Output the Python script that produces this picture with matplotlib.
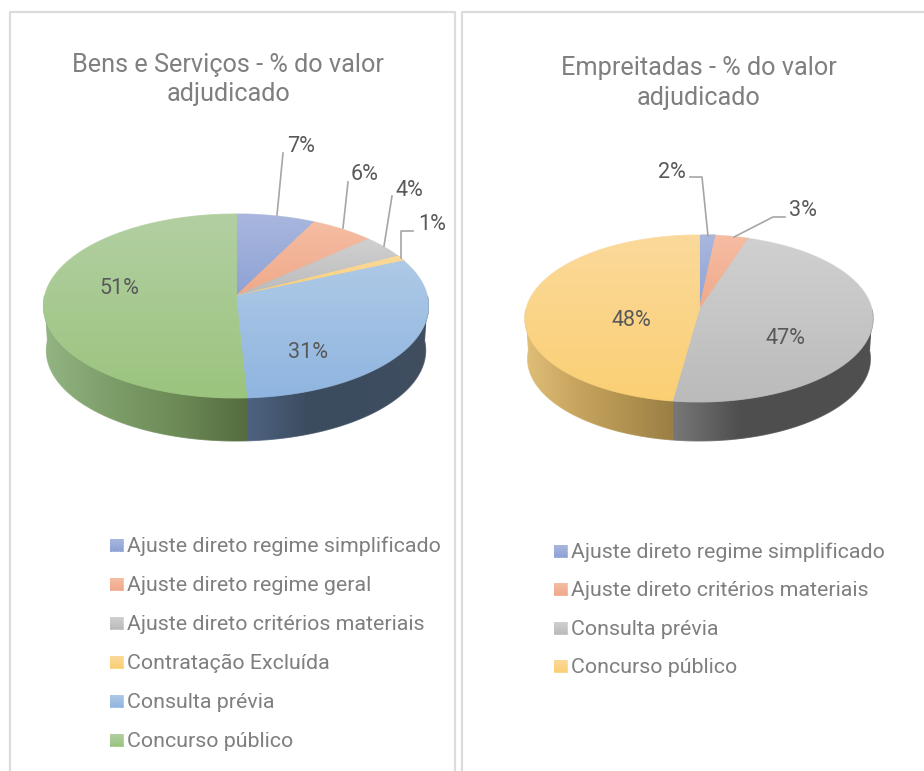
import numpy as np
import matplotlib
matplotlib.use('Agg')
import matplotlib.pyplot as plt
from matplotlib.collections import LineCollection
from matplotlib.colors import to_rgb
from matplotlib.patches import Polygon

# the data (labels show the rounded numbers)
title_left = 'Bens e Serviços - % do valor\nadjudicado'
names_left = ['Ajuste direto regime simplificado', 'Ajuste direto regime geral',
              'Ajuste direto critérios materiais', 'Contratação Excluída',
              'Consulta prévia', 'Concurso público']
values_left = [7.4, 5.9, 4.1, 1.0, 30.8, 50.8]

title_right = 'Empreitadas - % do valor\nadjudicado'
names_right = ['Ajuste direto regime simplificado', 'Ajuste direto critérios materiais',
               'Consulta prévia', 'Concurso público']
values_right = [1.7, 3.4, 47.1, 47.8]

# top face gradients (top colour, bottom colour)
blue = ('#a9b7de', '#8da2d5')
orange = ('#f5bda3', '#f0a98a')
grey = ('#d0d0d0', '#bbbbbb')
yellow = ('#fad99a', '#fbcf74')
sky = ('#aec9e6', '#8fb5e0')
green = ('#b2cfa2', '#9bc47e')

colors_left = [blue, orange, grey, yellow, sky, green]
colors_right = [blue, orange, grey, yellow]

# side wall gradients, left to right. only the front slices show a wall
walls_left = [None, None, None, None,
              ['#4e6281', '#3c4c60', '#3d4c5f', '#404e60'],
              ['#93b583', '#7d9e69', '#6c8a56', '#556c40']]
walls_right = [None, None,
               ['#787878', '#4f4f4f', '#4e4e4e', '#505050'],
               ['#dfbe78', '#c8a660', '#b39350', '#9a7f45']]

TEXT = '#7f7f7f'
LABEL = '#595959'
LEADER = '#a6a6a6'
BORDER = '#dcdcdc'

fig = plt.figure(figsize=(9.24, 7.71), dpi=100)
ax = fig.add_axes([0, 0, 1, 1])
ax.set_xlim(0, 924)
ax.set_ylim(771, 0)
ax.axis('off')
plt.rcParams['font.family'] = ['Roboto', 'DejaVu Sans']


def project(t, cx, cy, a, b, k):
    # t is clockwise from the top, k makes the back of the disc look smaller
    u = np.sin(t)
    v = np.cos(t)
    w = 1 + k*v
    return cx + a*u/w, cy - b*v/w


def gradient_fill(xs, ys, stops, vertical=True, zorder=2):
    x0, x1, y0, y1 = xs.min(), xs.max(), ys.min(), ys.max()
    rgb = np.array([to_rgb(c) for c in stops])
    pos = np.linspace(0, 1, len(stops))
    s = np.linspace(0, 1, 128)
    line = np.column_stack([np.interp(s, pos, rgb[:, i]) for i in range(3)])
    img = line[:, None, :] if vertical else line[None, :, :]
    im = ax.imshow(img, extent=[x0, x1, y1, y0], aspect='auto', zorder=zorder,
                   interpolation='bilinear')
    im.set_clip_path(Polygon(np.column_stack([xs, ys]), transform=ax.transData))

    # clip paths come out jagged, so run a thin stroke of the same gradient round it
    segs = []
    cols = []
    px = np.r_[xs, xs[0]]
    py = np.r_[ys, ys[0]]
    for j in range(len(xs)):
        sx = np.linspace(px[j], px[j + 1], 9)
        sy = np.linspace(py[j], py[j + 1], 9)
        for n in range(8):
            segs.append([(sx[n], sy[n]), (sx[n + 1], sy[n + 1])])
            if vertical:
                f = (sy[n] - y0)/(y1 - y0)
            else:
                f = (sx[n] - x0)/(x1 - x0)
            cols.append([np.interp(f, pos, rgb[:, i]) for i in range(3)])
    ax.add_collection(LineCollection(segs, colors=cols, linewidths=0.7, zorder=zorder))


def draw_pie(values, colors, walls, cx, cy, a, b, k, depth, shrink=0.985):
    edges = np.radians(np.cumsum([0] + list(values))*3.6)
    cy2 = cy + depth - b*shrink/(1 - k) + b/(1 - k)
    # walls first, the top faces cover what is behind them
    for i in range(len(values)):
        if walls[i] is None:
            continue
        t = np.linspace(max(edges[i], np.pi/2), min(edges[i + 1], 3*np.pi/2), 90)
        x1, y1 = project(t, cx, cy, a, b, k)
        x2, y2 = project(t[::-1], cx, cy2, a*shrink, b*shrink, k)
        gradient_fill(np.r_[x1, x2], np.r_[y1, y2], walls[i], vertical=False, zorder=2)
    for i in range(len(values)):
        t = np.linspace(edges[i], edges[i + 1], 90)
        x, y = project(t, cx, cy, a, b, k)
        gradient_fill(np.r_[cx, x], np.r_[cy, y], colors[i], zorder=3)


def draw_legend(names, colors, x, ys):
    for name, col, y in zip(names, colors, ys):
        xs = np.array([x, x + 12.5, x + 12.5, x])
        yy = np.array([y - 6, y - 6, y + 6, y + 6])
        gradient_fill(xs, yy, col)
        ax.text(x + 17, y + 1.5, name, color=TEXT, fontsize=15.4, va='center', ha='left')


def draw_labels(values, xs, ys):
    for val, x, y in zip(values, xs, ys):
        ax.text(x, y + 2, '%d%%' % round(val), color=LABEL, fontsize=15.5,
                va='center', ha='center', zorder=5)


# panel borders
ax.plot([9.5, 9.5, 454.5, 454.5], [771, 12, 12, 771], color=BORDER, lw=1.6, zorder=1)
ax.plot([462, 462, 924], [771, 12, 12], color=BORDER, lw=1.6, zorder=1)

# left chart
ax.text(228, 79.5, title_left, color=TEXT, fontsize=18.2, ha='center', va='center',
        linespacing=1.3)
draw_pie(values_left, colors_left, walls_left, 236, 296, 191.4, 90.9, 0.1087, 43)
draw_labels(values_left, [301, 365, 409, 432, 308, 119], [144, 173, 188, 222, 350, 287])
leaders_left = [([283, 277], [153, 215]),
                ([348, 343], [182, 228]),
                ([392, 384], [196, 246]),
                ([413, 401, 401], [231, 231, 258])]
for lx, ly in leaders_left:
    ax.plot(lx, ly, color=LEADER, lw=1.2, zorder=4)
draw_legend(names_left, colors_left, 110, [545, 584, 623, 662, 701, 740])

# right chart
ax.text(699, 83, title_right, color=TEXT, fontsize=18.2, ha='center', va='center',
        linespacing=1.27)
draw_pie(values_right, colors_right, walls_right, 699, 310, 173.1, 82.6, 0.1018, 39)
draw_labels(values_right, [672, 803, 785, 631], [170, 209, 336, 318])
leaders_right = [([690, 702, 708], [177, 177, 236]),
                 ([785, 773, 734], [217, 217, 237])]
for lx, ly in leaders_right:
    ax.plot(lx, ly, color=LEADER, lw=1.2, zorder=4)
draw_legend(names_right, colors_right, 554, [551, 589, 628, 666])

ax.set_xlim(0, 924)
ax.set_ylim(771, 0)
fig.savefig('out.png', dpi=100)
